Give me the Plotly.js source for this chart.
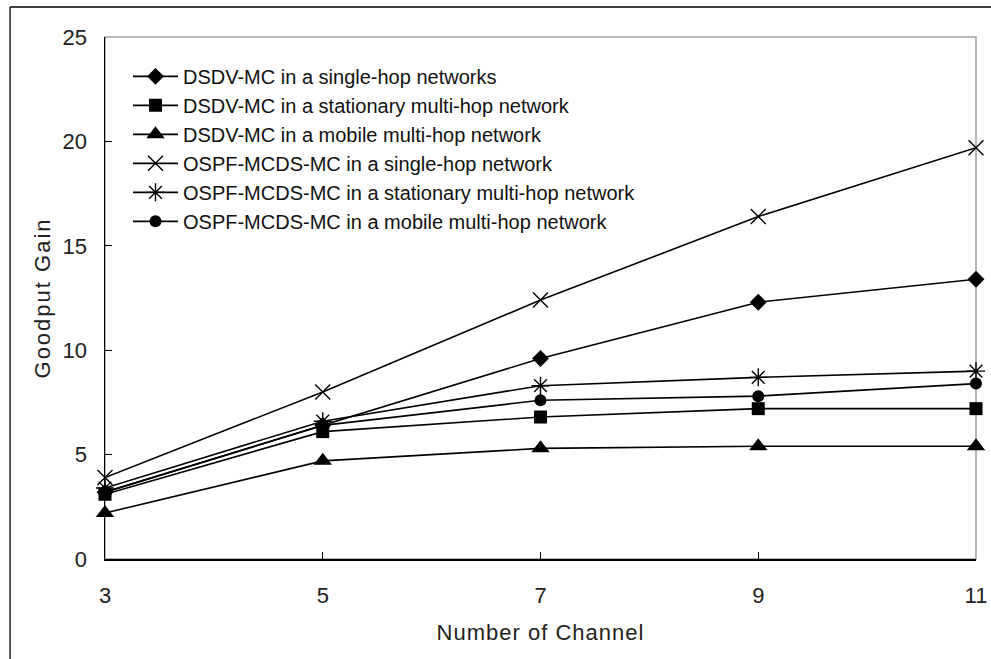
<!DOCTYPE html>
<html>
<head>
<meta charset="utf-8">
<script src="https://cdn.plot.ly/plotly-3.0.1.min.js"></script>
<style>
  html, body { margin: 0; padding: 0; background: #fff; }
  #chart { width: 991px; height: 659px; }
  .xtitle { letter-spacing: 1px; }
  .ytitle { letter-spacing: 2px; }
</style>
</head>
<body>
<div id="chart"></div>
<script>
// ---- data ----
const channels = [3, 5, 7, 9, 11];
const seriesNames = [
  "DSDV-MC in a single-hop networks",
  "DSDV-MC in a stationary multi-hop network",
  "DSDV-MC in a mobile multi-hop network",
  "OSPF-MCDS-MC in a single-hop network",
  "OSPF-MCDS-MC in a stationary multi-hop network",
  "OSPF-MCDS-MC in a mobile multi-hop network"
];
const dsdvSingle     = [3.2, 6.4, 9.6, 12.3, 13.4];
const dsdvStationary = [3.1, 6.1, 6.8, 7.2, 7.2];
const dsdvMobile     = [2.2, 4.7, 5.3, 5.4, 5.4];
const ospfSingle     = [3.9, 8.0, 12.4, 16.4, 19.7];
const ospfStationary = [3.4, 6.6, 8.3, 8.7, 9.0];
const ospfMobile     = [3.2, 6.4, 7.6, 7.8, 8.4];
const yTicks = [0, 5, 10, 15, 20, 25];
const xTicks = [3, 5, 7, 9, 11];

const seriesValues = [dsdvSingle, dsdvStationary, dsdvMobile, ospfSingle, ospfStationary, ospfMobile];
const symbols = ["diamond", "square", "triangle-up", "x-thin-open", "asterisk-open", "circle"];
const sizes = [13, 13, 16, 15, 15, 12];

const traces = seriesValues.map((vals, i) => ({
  x: channels,
  y: vals,
  name: seriesNames[i],
  legendgroup: "g" + i,
  type: "scatter",
  mode: "lines+markers",
  line: { color: "#000", width: 1.6 },
  marker: {
    symbol: symbols[i],
    size: sizes[i],
    color: "#000",
    line: { color: "#000", width: (symbols[i].endsWith("open") ? 1.4 : 0) }
  },
  cliponaxis: false
}));

const tickFont = { family: "Liberation Sans Narrow, Liberation Sans, Arial, sans-serif", size: 22, color: "#222" };
const titleFont = { family: "Liberation Sans, Arial, sans-serif", size: 22, color: "#222" };

const layout = {
  width: 991,
  height: 659,
  margin: { l: 105, r: 15, t: 37, b: 100 },
  paper_bgcolor: "#fff",
  plot_bgcolor: "#fff",
  showlegend: true,
  legend: {
    x: 0.0264, y: 0.962, xanchor: "left", yanchor: "top",
    bgcolor: "rgba(0,0,0,0)",
    borderwidth: 0,
    itemwidth: 45,
    traceorder: "grouped",
    tracegroupgap: 0,
    font: { family: "Liberation Sans, Arial, sans-serif", size: 20, color: "#111" }
  },
  xaxis: {
    range: [3, 11],
    tickvals: xTicks,
    ticktext: xTicks.map(String),
    showgrid: false,
    zeroline: false,
    showline: true,
    linecolor: "#000",
    linewidth: 1.5,
    ticks: "inside",
    ticklen: 7,
    tickcolor: "#000",
    tickwidth: 1,
    ticklabelstandoff: 16,
    tickfont: tickFont,
    automargin: false,
    title: { text: "Number of Channel", font: titleFont, standoff: 17 }
  },
  yaxis: {
    range: [0, 25],
    tickvals: yTicks,
    ticktext: yTicks.map(String),
    showgrid: false,
    zeroline: false,
    showline: true,
    linecolor: "#000",
    linewidth: 1.5,
    ticks: "inside",
    ticklen: 7,
    tickcolor: "#000",
    tickwidth: 1,
    ticklabelstandoff: 12,
    tickfont: tickFont,
    automargin: false,
    title: { text: "Goodput Gain", font: titleFont, standoff: 6 }
  },
  shapes: [
    { type: "rect", xref: "paper", yref: "paper", x0: 0, x1: 1, y0: 0, y1: 1,
      line: { color: "#a0a0a0", width: 1.5 }, layer: "below" },
    { type: "line", xref: "paper", yref: "paper", x0: -0.109, x1: -0.109, y0: 1.0575, y1: -0.25,
      line: { color: "#000", width: 1.3 } },
    { type: "line", xref: "paper", yref: "paper", x0: -0.109, x1: 1.03, y0: 1.0575, y1: 1.0575,
      line: { color: "#000", width: 1.3 } }
  ]
};

Plotly.newPlot("chart", traces, layout, { displayModeBar: false, staticPlot: true });
</script>
</body>
</html>
